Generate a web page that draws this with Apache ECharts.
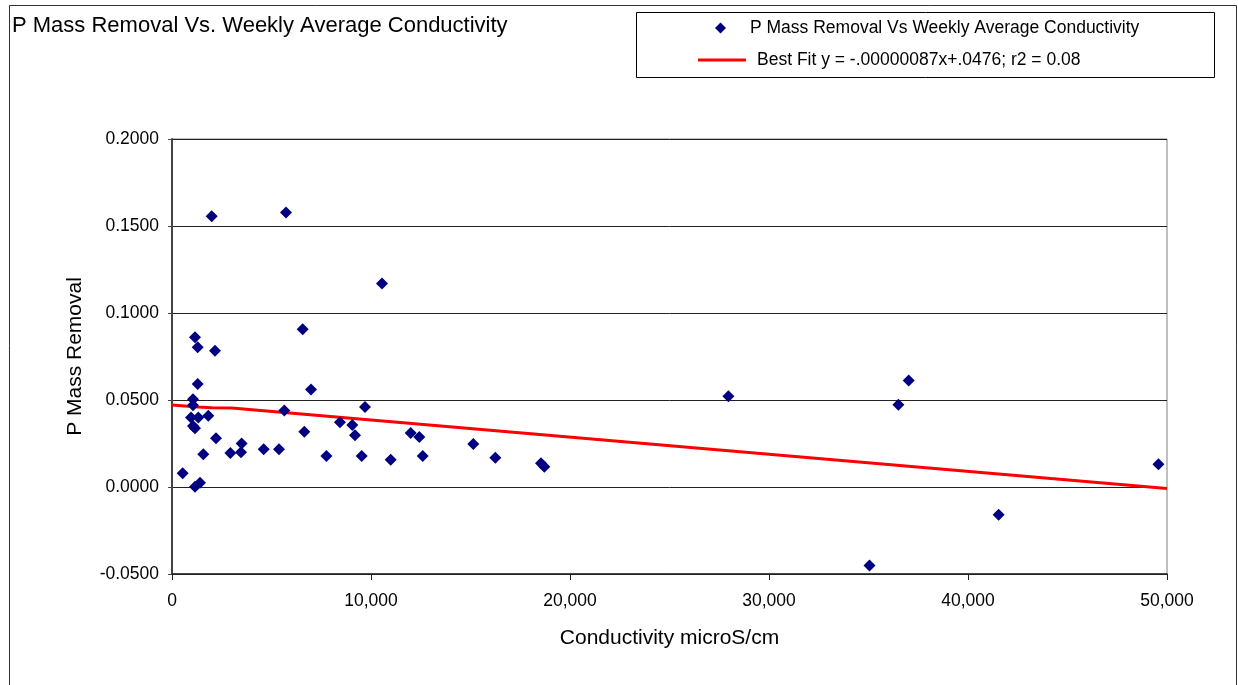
<!DOCTYPE html>
<html>
<head>
<meta charset="utf-8">
<script src="https://cdn.jsdelivr.net/npm/echarts@6/dist/echarts.min.js"></script>
<style>
html,body{margin:0;padding:0;background:#fff;}
#chart{width:1238px;height:685px;}
</style>
</head>
<body>
<div id="chart"></div>
<script>
// Conductivity (microS/cm) of each weekly point
const conductivity = [536, 1055, 1055, 955, 1323, 1826, 1055, 1156, 1156, 1290, 1290, 2160, 2211, 1574, 2932, 3467, 3500, 4607, 5377, 1993, 5729, 6566, 6985, 5644, 6650, 7760, 8440, 9060, 9196, 9531, 9700, 10553, 10990, 11994, 12428, 12597, 15141, 16246, 18542, 18709, 27960, 37020, 36500, 49570, 41540, 35050, 1156, 1407];
// P mass removal for each point
const pMassRemoval = [0.0079, 0.0504, 0.0470, 0.0400, 0.0400, 0.0410, 0.0350, 0.0337, 0.0860, 0.0803, 0.0592, 0.0783, 0.0280, 0.0188, 0.0195, 0.0200, 0.0250, 0.0217, 0.0217, 0.1556, 0.1577, 0.0906, 0.0561, 0.0439, 0.0318, 0.0178, 0.0372, 0.0356, 0.0297, 0.0178, 0.0460, 0.1169, 0.0157, 0.0310, 0.0287, 0.0178, 0.0247, 0.0168, 0.0136, 0.0117, 0.0521, 0.0612, 0.0472, 0.0131, -0.0159, -0.0451, 0.0002, 0.0025];
// Best fit line as drawn
const fitX = [0, 1300, 2000, 3000, 50000];
const fitY = [0.0471, 0.0460, 0.0456, 0.0454, -0.0008];

const seriesName = 'P Mass Removal Vs Weekly Average Conductivity';
const fitName = 'Best Fit y = -.00000087x+.0476; r2 = 0.08';
const titleText = 'P Mass Removal Vs. Weekly Average Conductivity';
const xName = 'Conductivity microS/cm';
const yName = 'P Mass Removal';

const FONT = '"Liberation Sans", Arial, sans-serif';
const chart = echarts.init(document.getElementById('chart'), null, {renderer: 'canvas'});

const scatterData = conductivity.map((x, i) => [x, pMassRemoval[i]]);
const fitData = fitX.map((x, i) => [x, fitY[i]]);

chart.setOption({
  backgroundColor: '#fff',
  animation: false,
  textStyle: {fontFamily: FONT},
  title: {
    text: titleText, left: 7, top: 10,
    textStyle: {fontFamily: FONT, fontSize: 22, fontWeight: 'normal', color: '#000'}
  },
  graphic: [
    {type: 'polyline', shape: {points: [[9.5, 700], [9.5, 5.5], [1236.5, 5.5], [1236.5, 700]]}, style: {stroke: '#333', lineWidth: 1, fill: null}, silent: true},
    {type: 'rect', shape: {x: 636.5, y: 12.5, width: 578, height: 65}, style: {stroke: '#000', lineWidth: 1, fill: null}, silent: true}
  ],
  legend: [
    {
      data: [{name: seriesName, icon: 'diamond'}],
      left: 715, top: 19, padding: 0, itemWidth: 11, itemHeight: 11,
      textStyle: {fontFamily: FONT, fontSize: 17.5, color: '#000', padding: [0, 0, 0, 19]},
      selectedMode: false
    },
    {
      data: [{name: fitName, icon: 'rect'}],
      left: 698, top: 51, padding: 0, itemWidth: 48, itemHeight: 3,
      textStyle: {fontFamily: FONT, fontSize: 17.5, color: '#000', padding: [0, 0, 0, 6]},
      selectedMode: false
    }
  ],
  grid: {left: 172, right: 71, top: 139, bottom: 111, show: true, borderColor: '#808080', borderWidth: 1},
  xAxis: {
    type: 'value', min: 0, max: 50000, interval: 10000,
    name: xName, nameLocation: 'middle', nameGap: 54,
    nameTextStyle: {fontFamily: FONT, fontSize: 21, color: '#000'},
    axisLine: {show: true, onZero: false, lineStyle: {color: '#222', width: 1.5}},
    axisTick: {show: true, length: 6, lineStyle: {color: '#222'}},
    axisLabel: {fontFamily: FONT, fontSize: 17.5, color: '#000', margin: 18,
      formatter: v => v.toLocaleString('en-US')},
    splitLine: {show: false}
  },
  yAxis: {
    type: 'value', min: -0.05, max: 0.2, interval: 0.05,
    name: yName, nameLocation: 'middle', nameGap: 86,
    nameTextStyle: {fontFamily: FONT, fontSize: 21, color: '#000'},
    axisLine: {show: true, onZero: false, lineStyle: {color: '#444', width: 2}},
    axisTick: {show: true, length: 4, lineStyle: {color: '#444'}},
    axisLabel: {fontFamily: FONT, fontSize: 17.5, color: '#000', margin: 13,
      formatter: v => v.toFixed(4)},
    splitLine: {show: true, lineStyle: {color: '#222', width: 1}}
  },
  series: [
    {
      name: seriesName, type: 'scatter', symbol: 'diamond', symbolSize: 12,
      itemStyle: {color: '#000080', opacity: 1}, data: scatterData, z: 3
    },
    {
      name: fitName, type: 'line', symbol: 'none', data: fitData,
      lineStyle: {color: '#ff0000', width: 3}, itemStyle: {color: '#ff0000'}, z: 2
    }
  ]
});
</script>
</body>
</html>
